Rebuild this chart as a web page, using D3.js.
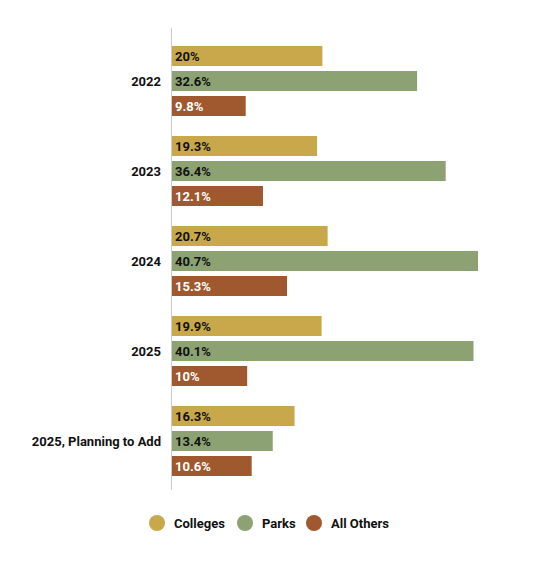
<!DOCTYPE html>
<html>
<head>
<meta charset="utf-8">
<script src="https://cdn.jsdelivr.net/npm/d3@7"></script>
<style>
  body { margin: 0; background: #fff; font-family: Roboto, "Noto Sans", sans-serif; }
  .label { font-size: 13px; font-weight: bold; fill: #111; }
  .value { font-size: 13px; font-weight: bold; }
</style>
</head>
<body>
<div id="chart"></div>
<script>
// Chart data
const groups = ["2022", "2023", "2024", "2025", "2025, Planning to Add"];
const seriesNames = ["Colleges", "Parks", "All Others"];
const seriesColors = ["#C8A84A", "#8CA272", "#A0592F"];
const labelColors = ["#111", "#111", "#fff"];
const colleges = [20, 19.3, 20.7, 19.9, 16.3];
const parks = [32.6, 36.4, 40.7, 40.1, 13.4];
const allOthers = [9.8, 12.1, 15.3, 10, 10.6];

const values = [colleges, parks, allOthers];

const width = 550;
const height = 566;
const axisX = 171.5;

const svg = d3.select("#chart")
    .append("svg")
    .attr("width", width)
    .attr("height", height);

// Scales
const x = d3.scaleLinear()
    .domain([0, 40.7])
    .range([axisX + 0.5, 478]);

const y0 = d3.scaleBand()
    .domain(groups)
    .range([36, 486])
    .paddingInner(2 / 9)
    .paddingOuter(1 / 9);

const y1 = d3.scaleBand()
    .domain(seriesNames)
    .range([0, y0.bandwidth()])
    .paddingInner(0.2);

// Bars
const rows = [];
groups.forEach((g, gi) => {
    seriesNames.forEach((s, si) => {
        rows.push({group: g, series: s, si: si, value: values[si][gi]});
    });
});

const bar = svg.append("g")
    .selectAll("g")
    .data(rows)
    .enter()
    .append("g")
    .attr("transform", d => `translate(0,${y0(d.group) + y1(d.series)})`);

bar.append("rect")
    .attr("x", x(0))
    .attr("width", d => x(d.value) - x(0))
    .attr("height", y1.bandwidth())
    .attr("fill", d => seriesColors[d.si]);

bar.append("text")
    .attr("class", "value")
    .attr("x", x(0) + 3)
    .attr("y", y1.bandwidth() / 2)
    .attr("dy", "0.36em")
    .attr("fill", d => labelColors[d.si])
    .text(d => d.value + "%");

// Axis line
svg.append("line")
    .attr("x1", axisX).attr("x2", axisX)
    .attr("y1", 28).attr("y2", 490)
    .attr("stroke", "#ccc")
    .attr("stroke-width", 1);

// Category labels
svg.append("g")
    .selectAll("text")
    .data(groups)
    .enter()
    .append("text")
    .attr("class", "label")
    .attr("x", 161)
    .attr("y", d => y0(d) + y0.bandwidth() / 2)
    .attr("dy", "0.36em")
    .attr("text-anchor", "end")
    .text(d => d);

// Legend
const legendPos = [157, 245, 314];
const legend = svg.append("g")
    .selectAll("g")
    .data(seriesNames)
    .enter()
    .append("g")
    .attr("transform", (d, i) => `translate(${legendPos[i]},523)`);

legend.append("circle")
    .attr("r", 8)
    .attr("fill", (d, i) => seriesColors[i]);

legend.append("text")
    .attr("class", "label")
    .attr("x", 17)
    .attr("dy", "0.36em")
    .text(d => d);
</script>
</body>
</html>
